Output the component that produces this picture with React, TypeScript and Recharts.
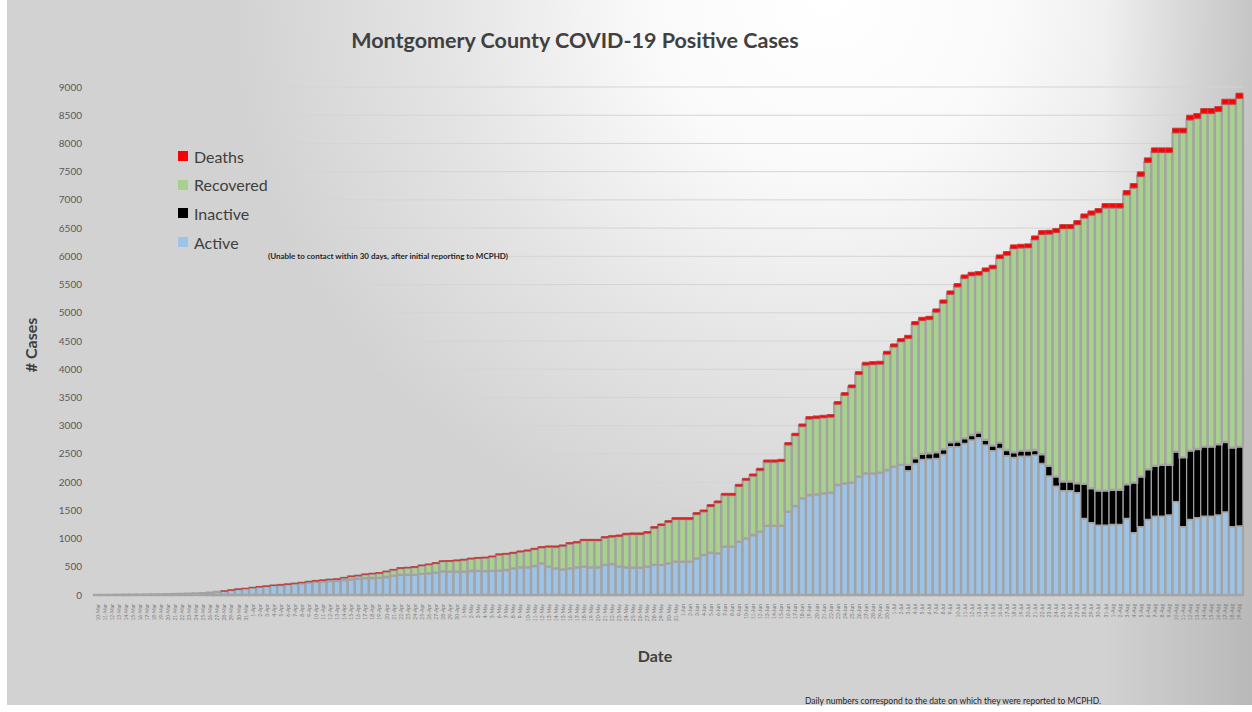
import React from "react";
import { BarChart, Bar, XAxis, YAxis, CartesianGrid } from "recharts";

// daily report dates, 10-Mar through 19-Aug
const dates = (
  "10-Mar 11-Mar 12-Mar 13-Mar 14-Mar 15-Mar 16-Mar 17-Mar 18-Mar 19-Mar 20-Mar 21-Mar 22-Mar 23-Mar 24-Mar 25-Mar 26-Mar 27-Mar 28-Mar 29-Mar 30-Mar 31-Mar " +
  "1-Apr 2-Apr 3-Apr 4-Apr 5-Apr 6-Apr 7-Apr 8-Apr 9-Apr 10-Apr 11-Apr 12-Apr 13-Apr 14-Apr 15-Apr 16-Apr 17-Apr 18-Apr 19-Apr 20-Apr 21-Apr 22-Apr 23-Apr 24-Apr 25-Apr 26-Apr 27-Apr 28-Apr 29-Apr 30-Apr " +
  "1-May 2-May 3-May 4-May 5-May 6-May 7-May 8-May 9-May 10-May 11-May 12-May 13-May 14-May 15-May 16-May 17-May 18-May 19-May 20-May 21-May 22-May 23-May 24-May 25-May 26-May 27-May 28-May 29-May 30-May 31-May " +
  "1-Jun 2-Jun 3-Jun 4-Jun 5-Jun 6-Jun 7-Jun 8-Jun 9-Jun 10-Jun 11-Jun 12-Jun 13-Jun 14-Jun 15-Jun 16-Jun 17-Jun 18-Jun 19-Jun 20-Jun 21-Jun 22-Jun 23-Jun 24-Jun 25-Jun 26-Jun 27-Jun 28-Jun 29-Jun 30-Jun " +
  "1-Jul 2-Jul 3-Jul 4-Jul 5-Jul 6-Jul 7-Jul 8-Jul 9-Jul 10-Jul 11-Jul 12-Jul 13-Jul 14-Jul 15-Jul 16-Jul 17-Jul 18-Jul 19-Jul 20-Jul 21-Jul 22-Jul 23-Jul 24-Jul 25-Jul 26-Jul 27-Jul 28-Jul 29-Jul 30-Jul 31-Jul " +
  "1-Aug 2-Aug 3-Aug 4-Aug 5-Aug 6-Aug 7-Aug 8-Aug 9-Aug 10-Aug 11-Aug 12-Aug 13-Aug 14-Aug 15-Aug 16-Aug 17-Aug 18-Aug 19-Aug"
).split(" ");

const active = [
  1, 1, 2, 3, 4, 5, 6, 8, 10, 12, 14, 17, 20, 24, 28, 33, 41, 55, 69, 87,
  103, 114, 130, 144, 155, 169, 177, 190, 197, 210, 223, 234, 240, 247, 249, 264, 278, 286, 298, 301,
  303, 319, 338, 358, 356, 357, 375, 383, 396, 419, 414, 413, 415, 425, 427, 422, 427,
  431, 443, 473, 490, 490, 514, 561, 502, 473, 455,
  473, 490, 502, 490, 490, 532, 549, 502, 490, 484,
  484, 502, 532, 532, 561, 591, 591, 591, 650, 709,
  750, 738, 856, 856, 945, 1004, 1063, 1122, 1223, 1223,
  1228, 1476, 1577, 1713, 1772, 1784, 1801, 1813, 1949, 1979, 1990,
  2097, 2156, 2156, 2168, 2215, 2274, 2304, 2203, 2333, 2404,
  2410, 2422, 2493, 2628, 2628, 2688, 2747, 2788, 2658, 2557,
  2599, 2469, 2440, 2463, 2463, 2481, 2334, 2109, 1931, 1848,
  1848, 1813, 1359, 1281, 1240, 1240, 1252, 1252, 1359, 1104,
  1210, 1341, 1400, 1400, 1418, 1654, 1210, 1341, 1370, 1400,
  1400, 1418, 1471, 1210, 1223,
];

// unable to contact within 30 days
const inactive = [
  0, 0, 0, 0, 0, 0, 0, 0, 0, 0, 0, 0, 0, 0, 0, 0, 0, 0, 0, 0,
  0, 0, 0, 0, 0, 0, 0, 0, 0, 0, 0, 0, 0, 0, 0, 0, 0, 0, 0, 0,
  0, 0, 0, 0, 0, 0, 0, 0, 0, 0, 0, 0, 0, 0, 0, 0, 0, 0, 0, 0,
  0, 0, 0, 0, 0, 0, 0, 0, 0, 0, 0, 0, 0, 0, 0, 0, 0, 0, 0, 0,
  0, 0, 0, 0, 0, 0, 0, 0, 0, 0, 0, 0, 0, 0, 0, 0, 0, 0, 0, 0,
  0, 0, 0, 0, 0, 0, 0, 0, 0, 0, 0, 0, 0, 0, 0,
  101, 89, 95, 100, 106, 88, 77, 89, 88, 88,
  88, 89, 89, 100, 100, 88, 94, 94, 88, 159,
  177, 165, 160, 160, 166, 608, 609, 608, 608, 609,
  609, 602, 886, 886, 886, 886, 904, 886, 886, 1230,
  1216, 1217, 1228, 1228, 1252, 1240, 1400, 1405,
];

const recovered = [
  0, 0, 0, 0, 0, 0, 0, 0, 0, 0, 0, 0, 0, 0, 0, 0, 0, 0, 0, 0,
  0, 0, 0, 0, 0, 0, 0, 0,
  5, 8, 12, 15, 20, 25, 30, 40, 50, 55, 65, 75, 85, 95, 105, 115, 125, 135, 145, 155,
  165, 175, 185, 195, 205, 215, 225, 235, 250,
  282, 281, 268, 275, 291, 297, 278, 349, 377, 413,
  435, 436, 464, 476, 475, 481, 480, 539, 580, 592,
  591, 596, 654, 701, 730, 752, 752, 751, 781, 768,
  821, 898, 914, 913, 983, 1030, 1047, 1088, 1133, 1133,
  1139, 1185, 1249, 1277, 1347, 1347, 1341, 1340, 1433, 1561, 1685,
  1813, 1919, 1930, 1924, 2053, 2123, 2187, 2245, 2368, 2367,
  2374, 2485, 2590, 2625, 2743, 2836, 2824, 2793, 2987, 3135,
  3264, 3452, 3611, 3593, 3598, 3726, 3897, 4109, 4327, 4485,
  4485, 4584, 4713, 4842, 4926, 5013, 4999, 4998, 5129, 5223,
  5323, 5439, 5557, 5538, 5537, 5649, 5749, 5861, 5859, 5906,
  5906, 5898, 5986, 6086, 6174,
];

const deaths = [
  0, 0, 0, 0, 0, 0, 0, 0, 0, 0, 0, 0, 0, 0, 0, 0, 0, 0,
  1, 1, 1, 2, 2, 2, 3, 3, 3, 4, 4, 4, 5, 5, 5, 6, 6, 6, 7, 7, 7,
  8, 8, 8, 9, 9, 9, 10, 10, 10, 11, 11, 11, 12, 12, 12, 13, 13, 13,
  14, 14, 15, 15, 16, 16, 17, 17, 18, 18,
  19, 19, 20, 20, 21, 21, 22, 22, 23, 23,
  24, 24, 25, 25, 26, 27, 27, 28, 28, 29,
  30, 30, 31, 32, 33, 33, 34, 35, 36, 36,
  37, 38, 39, 40, 41, 41, 42, 43, 44, 45, 46,
  47, 48, 48, 49, 50, 51, 51, 52, 53, 54,
  54, 55, 56, 57, 57, 58, 59, 60, 60, 61,
  62, 63, 63, 64, 65, 66, 66, 67, 68, 69,
  69, 70, 71, 72, 72, 73, 74, 75, 75, 76,
  77, 78, 78, 79, 80, 81, 81, 82, 83, 84,
  84, 85, 86, 87, 88,
];

const yTicks = [0, 500, 1000, 1500, 2000, 2500, 3000, 3500, 4000, 4500, 5000, 5500, 6000, 6500, 7000, 7500, 8000, 8500, 9000];

const data = dates.map((date, i) => ({
  date,
  active: active[i],
  inactive: inactive[i],
  recovered: recovered[i],
  deaths: deaths[i],
}));

const legendItems = [
  { label: "Deaths", color: "#ff0000" },
  { label: "Recovered", color: "#a9d18e" },
  { label: "Inactive", color: "#000000" },
  { label: "Active", color: "#9dc3e6" },
];

const font = "Lato, 'Open Sans', sans-serif";

function DateTick(props: any) {
  const { x, y, payload } = props;
  return (
    <text
      x={x}
      y={y}
      transform={`rotate(-90 ${x} ${y})`}
      textAnchor="end"
      dominantBaseline="central"
      fontSize={5}
      fill="#7a7a7a"
      fontFamily={font}
    >
      {payload.value}
    </text>
  );
}

export default function App() {
  return (
    <div style={{ position: "absolute", left: 0, top: 0, width: 1252, height: 712, background: "#fff", fontFamily: font }}>
      <div
        style={{
          position: "absolute",
          left: 7,
          top: 0,
          width: 1245,
          height: 705,
          background:
            "linear-gradient(to right, rgba(0,0,0,0) 88%, rgba(0,0,0,0.12) 100%), radial-gradient(ellipse 48% 80% at 66% 0%, #ffffff 0%, #fafafa 30%, #e4e4e4 65%, #d2d2d2 100%)",
        }}
      />
      <div style={{ position: "absolute", left: 0, top: 0 }}>
        <BarChart
          width={1252}
          height={712}
          data={data}
          margin={{ top: 87, right: 9, bottom: 87, left: 54 }}
          barCategoryGap={0}
        >
          <CartesianGrid vertical={false} stroke="#d4d4d4" strokeWidth={1} />
          <XAxis
            dataKey="date"
            interval={0}
            height={30}
            tick={<DateTick />}
            tickLine={false}
            tickMargin={3}
            axisLine={{ stroke: "#a6a6a6" }}
          />
          <YAxis
            domain={[0, 9000]}
            ticks={yTicks}
            width={40}
            axisLine={false}
            tickLine={false}
            tickMargin={6}
            tick={{ fill: "#595959", fontSize: 10, fontFamily: font }}
          />
          <Bar dataKey="active" stackId="a" fill="#9dc3e6" stroke="#a3a3a3" strokeWidth={2.3} isAnimationActive={false} />
          <Bar dataKey="inactive" stackId="a" fill="#000000" stroke="#a3a3a3" strokeWidth={1.2} isAnimationActive={false} />
          <Bar dataKey="recovered" stackId="a" fill="#a9d18e" stroke="#a3a3a3" strokeWidth={2.3} isAnimationActive={false} />
          <Bar dataKey="deaths" stackId="a" fill="#ff0000" stroke="#c04040" strokeWidth={1} isAnimationActive={false} />
        </BarChart>
      </div>

      <div style={{ position: "absolute", left: 0, width: 1150, top: 27, textAlign: "center", fontSize: 21.5, fontWeight: 700, color: "#404040" }}>
        Montgomery County COVID-19 Positive Cases
      </div>

      <div
        style={{
          position: "absolute",
          left: 30,
          top: 345,
          transform: "translate(-50%, -50%) rotate(-90deg)",
          fontSize: 16,
          fontWeight: 700,
          color: "#404040",
          whiteSpace: "nowrap",
        }}
      >
        # Cases
      </div>

      <div style={{ position: "absolute", left: 655, top: 655, transform: "translate(-50%, -50%)", fontSize: 16, fontWeight: 700, color: "#404040" }}>
        Date
      </div>

      {legendItems.map((item, i) => (
        <div key={item.label} style={{ position: "absolute", left: 178, top: 146 + i * 28.7, height: 20, display: "flex", alignItems: "center" }}>
          <span style={{ display: "inline-block", width: 10, height: 10, background: item.color, marginRight: 6 }} />
          <span style={{ fontSize: 16, color: "#404040" }}>{item.label}</span>
        </div>
      ))}

      <div style={{ position: "absolute", left: 268, top: 251, fontSize: 8, fontWeight: 700, color: "#262626", whiteSpace: "nowrap" }}>
        (Unable to contact within 30 days, after initial reporting to MCPHD)
      </div>

      <div style={{ position: "absolute", left: 805, top: 696, fontSize: 8.5, color: "#262626", whiteSpace: "nowrap" }}>
        Daily numbers correspond to the date on which they were reported to MCPHD.
      </div>
    </div>
  );
}
